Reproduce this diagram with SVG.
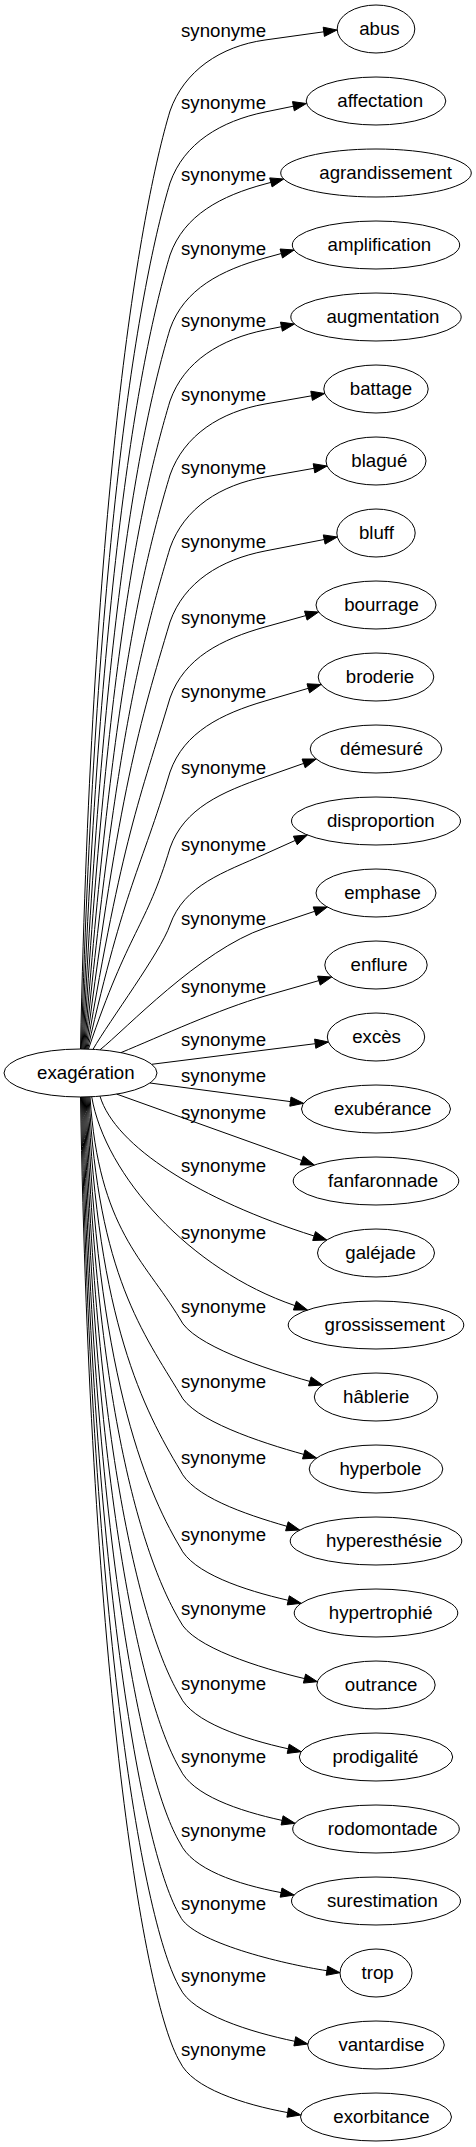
<svg xmlns="http://www.w3.org/2000/svg" width="476" height="2147" viewBox="0 0 476 2147">
<style>
text{font-family:"Liberation Sans",Arial,sans-serif;font-size:18.67px;fill:#000}
.n ellipse{fill:none;stroke:#000;stroke-width:1}
.e path{fill:none;stroke:#000;stroke-width:1}
.e polygon{fill:#000;stroke:#000;stroke-width:1}
</style>
<rect width="476" height="2147" fill="#fff"/>
<g id="connectors" class="e">
<g id="e1"><path d="M80.5,1049 C92.2,486.2 140,211 170,111 C184,71 220.4,46.2 265,40 L323.8,31.8"/><polygon points="337,30 324.4,36.4 323.2,27.2"/><text x="181" y="37">synonyme</text></g>
<g id="e2"><path d="M81.3,1049 C96.1,529.4 140,283 170,183 C184,143 220.9,121.1 265,112 L293.4,106.2"/><polygon points="306.4,103.5 294.3,110.8 292.5,101.6"/><text x="181" y="109">synonyme</text></g>
<g id="e3"><path d="M82.1,1049 C99.9,572.6 140,355 170,255 C184,215 221.5,195.6 265,184 L270.9,182.4"/><polygon points="283.7,179 272.1,186.9 269.7,177.9"/><text x="181" y="181">synonyme</text></g>
<g id="e4"><path d="M82.9,1049 C103.8,617 140,429 170,329 C184,289 221.6,269.9 265,258 L281.3,253.5"/><polygon points="294.1,250 282.5,258 280.1,249"/><text x="181" y="255">synonyme</text></g>
<g id="e5"><path d="M83.7,1049 C107.5,660.2 140,501 170,401 C184,361 220.9,339 265,330 L281.5,326.7"/><polygon points="294.5,324 282.4,331.2 280.5,322.1"/><text x="181" y="327">synonyme</text></g>
<g id="e6"><path d="M84.5,1049 C111.3,704.6 140,575 170,475 C184,435 220.7,411.8 265,404 L311.6,395.8"/><polygon points="324.7,393.5 312.4,400.4 310.8,391.2"/><text x="181" y="401">synonyme</text></g>
<g id="e7"><path d="M85.3,1049 C114.9,748.4 140,648 170,548 C184,508 220.7,484.9 265,477 L314,468.3"/><polygon points="327.1,466 314.8,472.9 313.2,463.7"/><text x="181" y="474">synonyme</text></g>
<g id="e8"><path d="M86.1,1049 C118.5,792.8 140,722 170,622 C184,582 220.8,559.6 265,551 L324.2,539.5"/><polygon points="337.3,537 325.1,544.1 323.3,534.9"/><text x="181" y="548">synonyme</text></g>
<g id="e9"><path d="M86.9,1049 C122.2,838.4 140,798 170,698 C184,658 221.7,639.1 265,627 L305.8,615.6"/><polygon points="318.6,612 307.1,620.1 304.5,611.1"/><text x="181" y="624">synonyme</text></g>
<g id="e10"><path d="M87.7,1049 C125.7,882.8 140,872 170,772 C184,732 221.8,713.7 265,701 L308.3,688.3"/><polygon points="321.1,684.5 309.6,692.8 307,683.8"/><text x="181" y="698">synonyme</text></g>
<g id="e11"><path d="M88.5,1049 C129.2,928.4 145.9,928.4 170,848 C184,808 222.6,791.9 265,777 L303.7,763.4"/><polygon points="316.2,759 305.2,767.8 302.1,759"/><text x="181" y="774">synonyme</text></g>
<g id="e12"><path d="M93,1049.3 C110,1020 160,953 170,925 C184,885 223.9,872.4 265,854 L295.3,840.4"/><polygon points="307.4,835 297.2,844.7 293.4,836.2"/><text x="181" y="851">synonyme</text></g>
<g id="e13"><path d="M100,1049.8 C125,1030 200,950 265,928 L314.7,911.3"/><polygon points="327.3,907 316.2,915.7 313.2,906.9"/><text x="181" y="925">synonyme</text></g>
<g id="e14"><path d="M121,1052.6 C160,1036.5 219.8,1008.9 265,996 L318.9,980.6"/><polygon points="331.7,977 320.2,985.1 317.6,976.1"/><text x="181" y="993">synonyme</text></g>
<g id="e15"><path d="M151.7,1064.3 L315.2,1043.7"/><polygon points="328.4,1042 315.8,1048.3 314.6,1039.1"/><text x="181" y="1046">synonyme</text></g>
<g id="e16"><path d="M150,1083 L290.4,1101.6"/><polygon points="303.6,1103.3 289.8,1106.2 291,1097"/><text x="181" y="1082">synonyme</text></g>
<g id="e17"><path d="M116.7,1094.1 L301.8,1160.5"/><polygon points="314.3,1165 300.2,1164.9 303.4,1156.1"/><text x="181" y="1119">synonyme</text></g>
<g id="e18"><path d="M100,1096.2 C115,1146.2 200,1200 314.1,1236"/><polygon points="326.8,1240 312.7,1240.5 315.5,1231.6"/><text x="181" y="1172">synonyme</text></g>
<g id="e19"><path d="M91.7,1096.7 C105,1175 190,1270 294.9,1305.6"/><polygon points="307.5,1310 293.4,1310 296.4,1301.2"/><text x="181" y="1239">synonyme</text></g>
<g id="e20"><path d="M90,1097 C99,1230.2 144,1259 180,1319 C192,1345 266.5,1369.2 309.8,1381.4"/><polygon points="322.6,1385 308.5,1385.9 311.1,1376.9"/><text x="181" y="1313">synonyme</text></g>
<g id="e21"><path d="M89.05,1097 C98.1,1275.2 144,1334 180,1394 C192,1420 260.4,1442.4 303.8,1454.4"/><polygon points="316.6,1458 302.5,1458.9 305,1449.9"/><text x="181" y="1388">synonyme</text></g>
<g id="e22"><path d="M88.1,1097 C97.3,1320.8 144,1410 180,1470 C192,1496 243.7,1513.9 286.9,1526.3"/><polygon points="299.7,1530 285.6,1530.8 288.2,1521.8"/><text x="181" y="1464">synonyme</text></g>
<g id="e23"><path d="M87.15,1097 C96.4,1367 144,1487 180,1547 C192,1573 244.4,1590.3 288.2,1600.3"/><polygon points="301.2,1603.3 287.2,1604.9 289.3,1595.8"/><text x="181" y="1541">synonyme</text></g>
<g id="e24"><path d="M86.2,1097 C95.6,1411.4 144,1561 180,1621 C192,1647 260.7,1668.2 304.5,1678.6"/><polygon points="317.4,1681.7 303.4,1683.1 305.6,1674.1"/><text x="181" y="1615">synonyme</text></g>
<g id="e25"><path d="M85.25,1097 C94.7,1456.4 144,1636 180,1696 C192,1722 244.3,1739.1 288.2,1748.8"/><polygon points="301.2,1751.7 287.2,1753.4 289.2,1744.2"/><text x="181" y="1690">synonyme</text></g>
<g id="e26"><path d="M84.3,1097 C93.9,1500.2 144,1709 180,1769 C192,1795 238.2,1810.8 282.1,1820.4"/><polygon points="295.1,1823.3 281.1,1825 283.1,1815.8"/><text x="181" y="1763">synonyme</text></g>
<g id="e27"><path d="M83.35,1097 C93,1544.6 144,1783 180,1843 C192,1869 236.9,1884.3 281.1,1892.6"/><polygon points="294.2,1895 280.2,1897.2 282,1888"/><text x="181" y="1837">synonyme</text></g>
<g id="e28"><path d="M82.4,1097 C92.2,1588.4 144,1856 180,1916 C192,1942 282.4,1963.9 326.9,1970.7"/><polygon points="340,1972.7 326.2,1975.3 327.6,1966.1"/><text x="181" y="1910">synonyme</text></g>
<g id="e29"><path d="M81.45,1097 C91.3,1631.6 144,1928 180,1988 C192,2014 250.7,2032.2 294.8,2041.3"/><polygon points="307.8,2044 293.9,2045.9 295.7,2036.7"/><text x="181" y="1982">synonyme</text></g>
<g id="e30"><path d="M80.5,1097 C90.5,1676 144,2002 180,2062 C192,2088 243.4,2104.5 287.7,2112.6"/><polygon points="300.8,2115 286.9,2117.2 288.5,2108"/><text x="181" y="2056">synonyme</text></g>
</g>
<g id="n-exageration" class="n"><ellipse cx="80.5" cy="1073" rx="76.5" ry="24"/><text x="37.1" y="1079">exagération</text></g>
<g id="n-abus" class="n"><ellipse cx="376" cy="29" rx="38.8" ry="24"/><text x="359.2" y="35">abus</text></g>
<g id="n-affectation" class="n"><ellipse cx="376" cy="101" rx="69.8" ry="24"/><text x="337.3" y="107">affectation</text></g>
<g id="n-agrandissement" class="n"><ellipse cx="376" cy="173" rx="95.3" ry="24"/><text x="319.3" y="179">agrandissement</text></g>
<g id="n-amplification" class="n"><ellipse cx="376" cy="245" rx="83.7" ry="24"/><text x="327.5" y="251">amplification</text></g>
<g id="n-augmentation" class="n"><ellipse cx="376" cy="317" rx="85.2" ry="24"/><text x="326.4" y="323">augmentation</text></g>
<g id="n-battage" class="n"><ellipse cx="376" cy="389" rx="52.2" ry="24"/><text x="349.8" y="395">battage</text></g>
<g id="n-blague" class="n"><ellipse cx="376" cy="461" rx="50" ry="24"/><text x="351.3" y="467">blagué</text></g>
<g id="n-bluff" class="n"><ellipse cx="376" cy="533" rx="39.2" ry="24"/><text x="358.9" y="539">bluff</text></g>
<g id="n-bourrage" class="n"><ellipse cx="376" cy="605" rx="60" ry="24"/><text x="344.2" y="611">bourrage</text></g>
<g id="n-broderie" class="n"><ellipse cx="376" cy="677" rx="57.8" ry="24"/><text x="345.8" y="683">broderie</text></g>
<g id="n-demesure" class="n"><ellipse cx="376" cy="749" rx="65.8" ry="24"/><text x="340.1" y="755">démesuré</text></g>
<g id="n-disproportion" class="n"><ellipse cx="376" cy="821" rx="84.5" ry="24"/><text x="326.9" y="827">disproportion</text></g>
<g id="n-emphase" class="n"><ellipse cx="376" cy="893" rx="60" ry="24"/><text x="344.2" y="899">emphase</text></g>
<g id="n-enflure" class="n"><ellipse cx="376" cy="965" rx="51.2" ry="24"/><text x="350.5" y="971">enflure</text></g>
<g id="n-exces" class="n"><ellipse cx="376" cy="1037" rx="48.7" ry="24"/><text x="352.2" y="1043">excès</text></g>
<g id="n-exuberance" class="n"><ellipse cx="376" cy="1109" rx="74.5" ry="24"/><text x="334" y="1115">exubérance</text></g>
<g id="n-fanfaronnade" class="n"><ellipse cx="376" cy="1181" rx="82.8" ry="24"/><text x="328.1" y="1187">fanfaronnade</text></g>
<g id="n-galejade" class="n"><ellipse cx="376" cy="1253" rx="58.5" ry="24"/><text x="345.3" y="1259">galéjade</text></g>
<g id="n-grossissement" class="n"><ellipse cx="376" cy="1325" rx="87.8" ry="24"/><text x="324.6" y="1331">grossissement</text></g>
<g id="n-hablerie" class="n"><ellipse cx="376" cy="1397" rx="61.7" ry="24"/><text x="343" y="1403">hâblerie</text></g>
<g id="n-hyperbole" class="n"><ellipse cx="376" cy="1469" rx="66.8" ry="24"/><text x="339.4" y="1475">hyperbole</text></g>
<g id="n-hyperesthesie" class="n"><ellipse cx="376" cy="1541" rx="85.8" ry="24"/><text x="326" y="1547">hyperesthésie</text></g>
<g id="n-hypertrophie" class="n"><ellipse cx="376" cy="1613" rx="81.8" ry="24"/><text x="328.8" y="1619">hypertrophié</text></g>
<g id="n-outrance" class="n"><ellipse cx="376" cy="1685" rx="59.2" ry="24"/><text x="344.8" y="1691">outrance</text></g>
<g id="n-prodigalite" class="n"><ellipse cx="376" cy="1757" rx="76.7" ry="24"/><text x="332.4" y="1763">prodigalité</text></g>
<g id="n-rodomontade" class="n"><ellipse cx="376" cy="1829" rx="83.3" ry="24"/><text x="327.8" y="1835">rodomontade</text></g>
<g id="n-surestimation" class="n"><ellipse cx="376" cy="1901" rx="84.5" ry="24"/><text x="326.9" y="1907">surestimation</text></g>
<g id="n-trop" class="n"><ellipse cx="376" cy="1973" rx="36" ry="24"/><text x="361.5" y="1979">trop</text></g>
<g id="n-vantardise" class="n"><ellipse cx="376" cy="2045" rx="68.3" ry="24"/><text x="338.4" y="2051">vantardise</text></g>
<g id="n-exorbitance" class="n"><ellipse cx="376" cy="2117" rx="75.5" ry="24"/><text x="333.3" y="2123">exorbitance</text></g>
</svg>
